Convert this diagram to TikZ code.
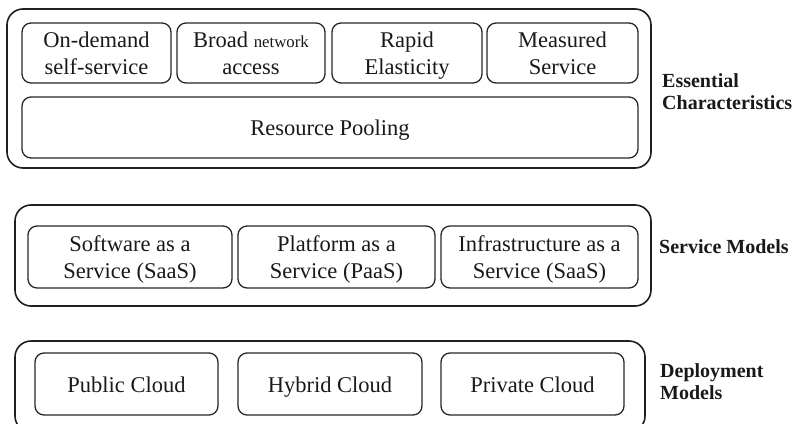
\documentclass[tikz,border=0pt]{standalone}
\usepackage{fontspec}
\setmainfont{Liberation Serif}
\newcommand\lstrut{\rule[-5.5pt]{0pt}{27pt}}
\begin{document}
\begin{tikzpicture}[x=1pt,y=-1pt,
  outerbox/.style={draw=black!88, line width=1.6pt, rounded corners=16pt, inner sep=0pt, outer sep=0pt},
  innerbox/.style={draw=black!85, line width=1.3pt, rounded corners=9pt, inner sep=0pt, outer sep=0pt, align=center,
    text=black!90, font=\fontsize{22.5}{27}\selectfont},
  grouplabel/.style={inner sep=0pt, align=left, text=black!90, font=\fontsize{20}{22}\selectfont\bfseries}]
\useasboundingbox (0,0) rectangle (795,423);
\clip (0,0) rectangle (795,423);
% Essential characteristics
\node[outerbox, minimum width=644pt, minimum height=159pt] (ecbox) at (329,88.5) {};
\node[innerbox, minimum width=149pt, minimum height=60pt] (ondemand) at (96.5,53) {\lstrut On-demand\\self-service\lstrut};
\node[innerbox, minimum width=148pt, minimum height=60pt] (broad) at (251,53) {\lstrut Broad {\fontsize{16.8}{20}\selectfont network}\\access\lstrut};
\node[innerbox, minimum width=150pt, minimum height=60pt] (rapid) at (407,53) {\lstrut Rapid\\Elasticity\lstrut};
\node[innerbox, minimum width=151pt, minimum height=60pt] (measured) at (562.5,53) {\lstrut Measured\\Service\lstrut};
\node[innerbox, minimum width=616pt, minimum height=61pt] (pooling) at (330,127.5) {\lstrut Resource Pooling};
\node[grouplabel, anchor=west] (eclabel) at (662,92) {Essential\\Characteristics};
% Service models
\node[outerbox, minimum width=636pt, minimum height=101pt] (smbox) at (333,255.5) {};
\node[innerbox, minimum width=204pt, minimum height=62pt] (saas) at (130,257) {\lstrut Software as a\\Service (SaaS)\lstrut};
\node[innerbox, minimum width=197pt, minimum height=62pt] (paas) at (336.5,257) {\lstrut Platform as a\\Service (PaaS)\lstrut};
\node[innerbox, minimum width=197pt, minimum height=62pt] (iaas) at (539.5,257) {\lstrut Infrastructure as a\\Service (SaaS)\lstrut};
\node[grouplabel, anchor=base west] (smlabel) at (659,253) {Service Models};
% Deployment models
\node[outerbox, minimum width=630pt, minimum height=91pt] (dmbox) at (330,386.5) {};
\node[innerbox, minimum width=183pt, minimum height=62pt] (public) at (126.5,384) {\lstrut Public Cloud};
\node[innerbox, minimum width=184pt, minimum height=62pt] (hybrid) at (330,384) {\lstrut Hybrid Cloud};
\node[innerbox, minimum width=183pt, minimum height=62pt] (private) at (532.5,384) {\lstrut Private Cloud};
\node[grouplabel, anchor=west] (dmlabel) at (660,382) {Deployment\\Models};
\end{tikzpicture}
\end{document}
